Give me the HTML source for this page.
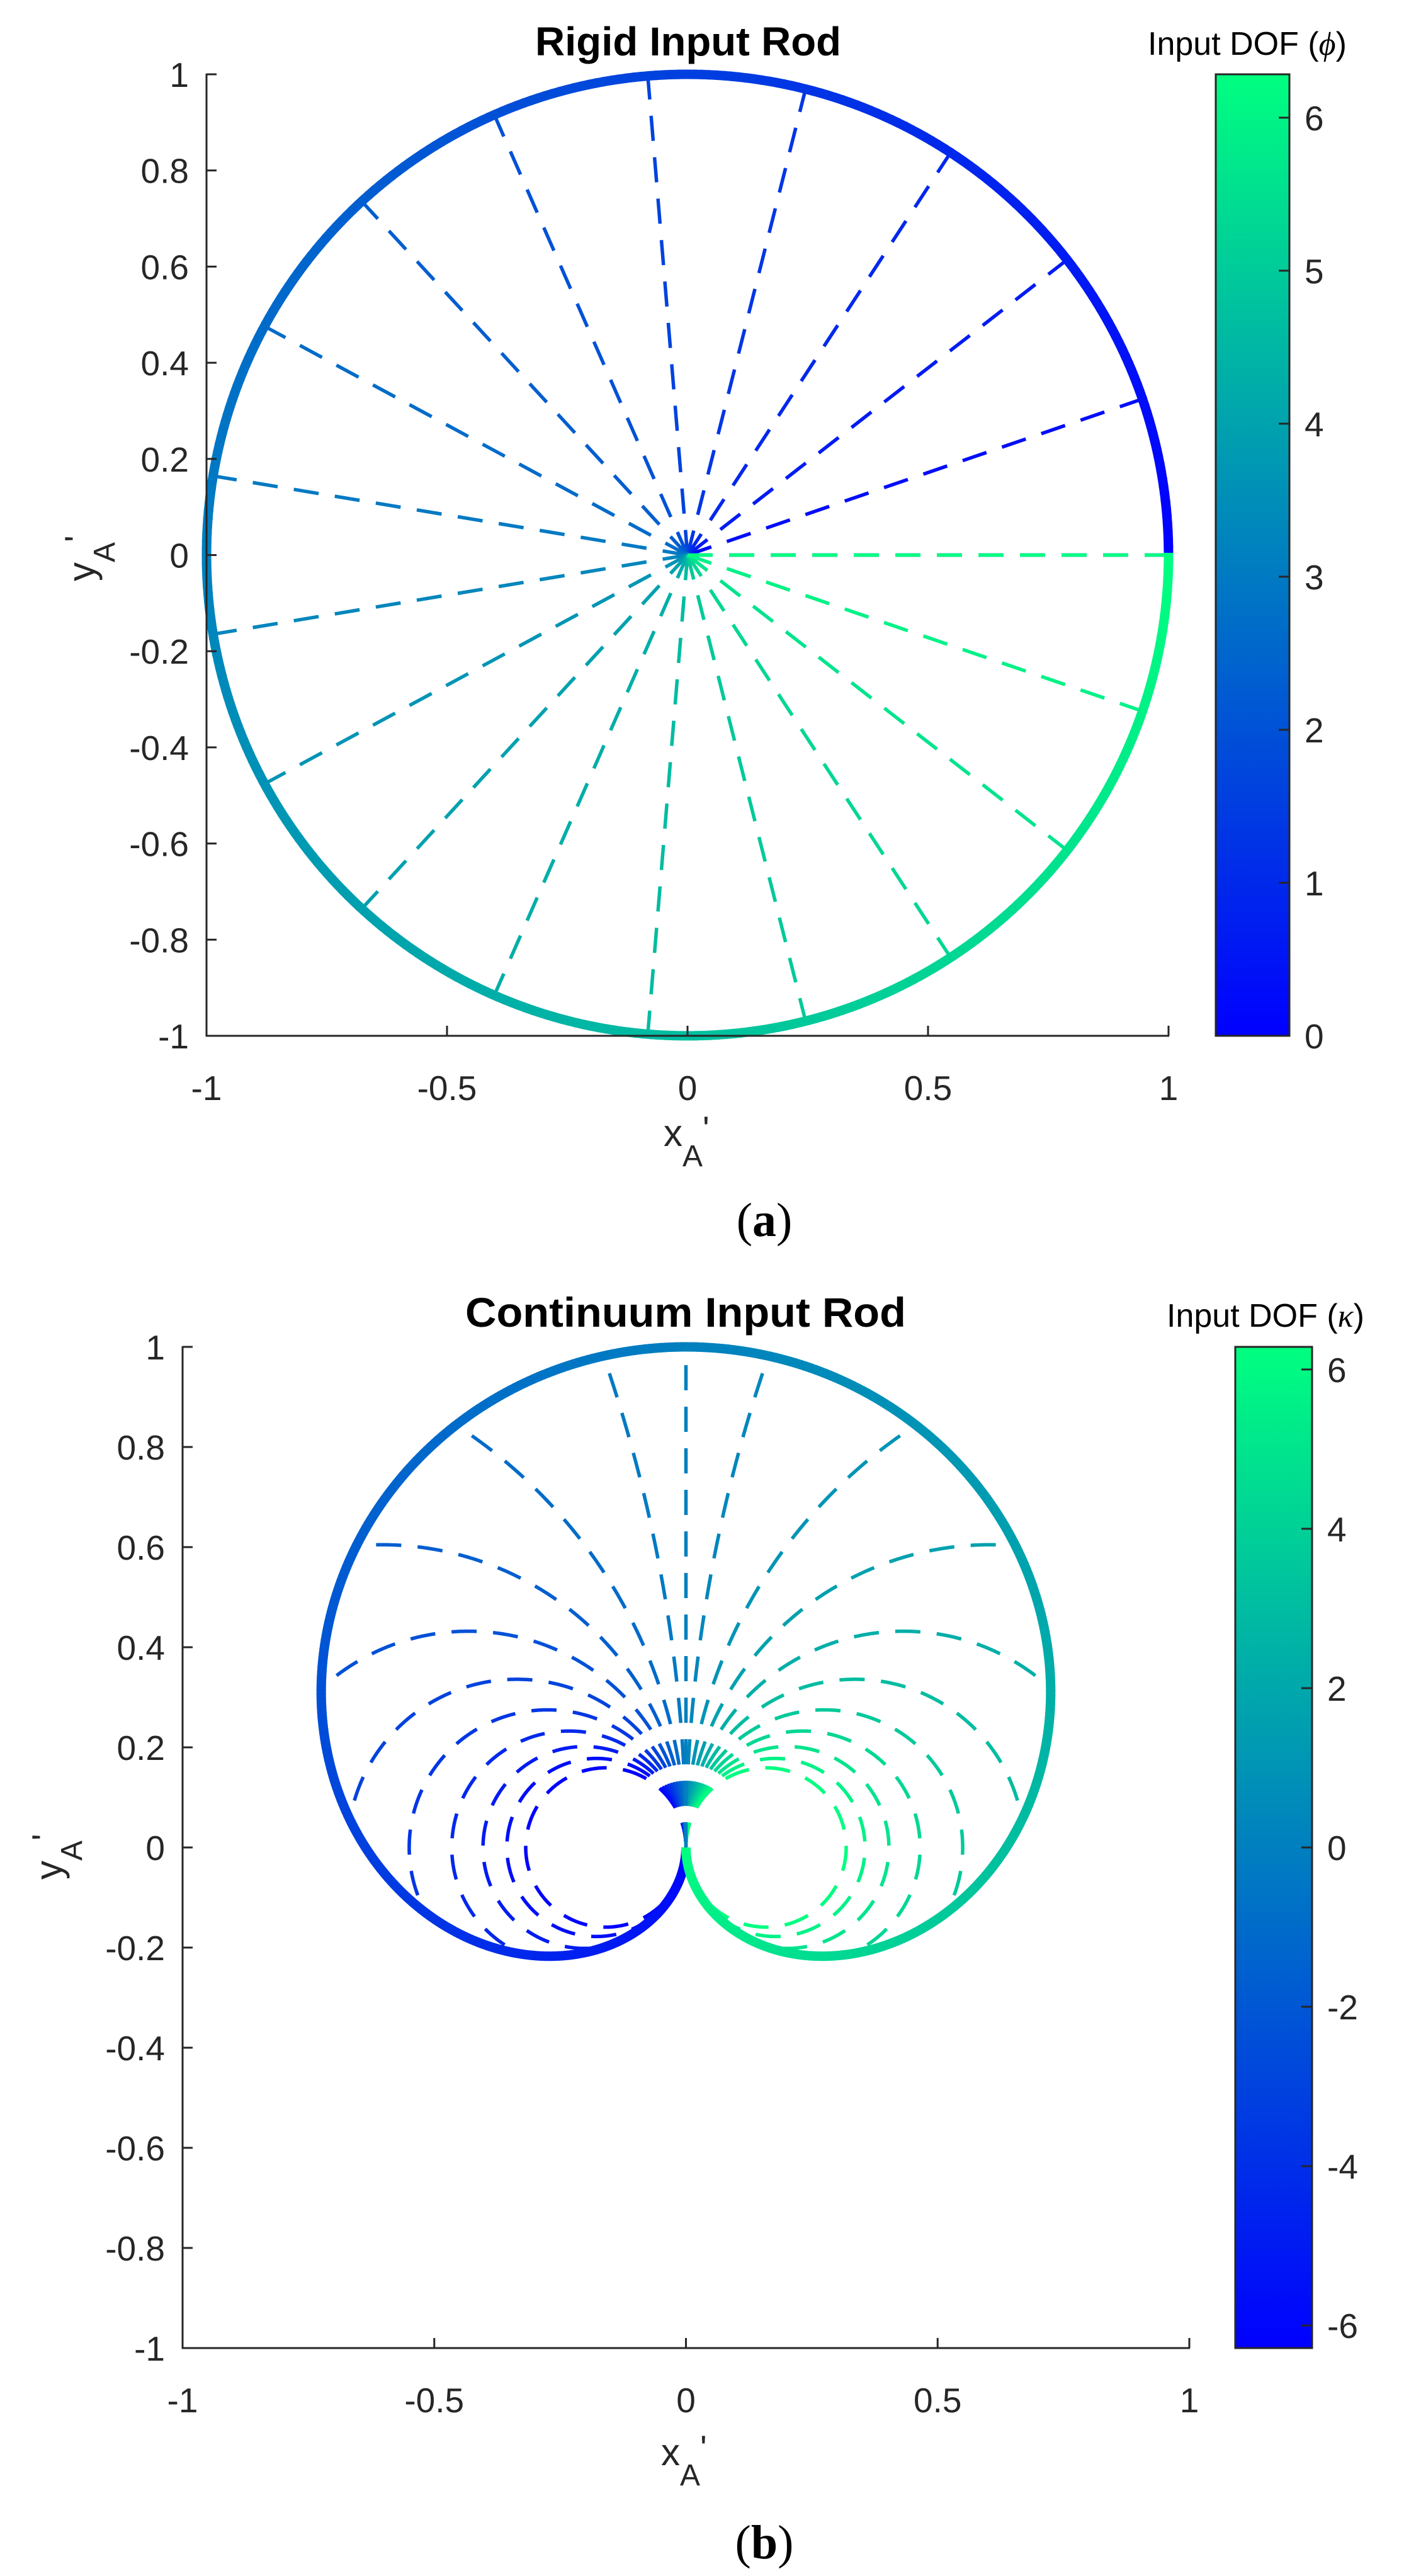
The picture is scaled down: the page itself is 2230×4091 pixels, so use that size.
<!DOCTYPE html>
<html><head><meta charset="utf-8">
<style>
html,body{margin:0;padding:0;background:#fff;}
svg{display:block;}
text{font-family:"Liberation Sans",Arial,sans-serif;fill:#262626;}
</style></head>
<body>
<svg id="s" width="2230" height="4091" viewBox="0 0 2230 4091" xmlns="http://www.w3.org/2000/svg">
<defs>
<linearGradient id="cb" x1="0" y1="1" x2="0" y2="0">
<stop offset="0" stop-color="#0000ff"/><stop offset="1" stop-color="#00ff80"/>
</linearGradient>
</defs>
<rect width="2230" height="4091" fill="#fff"/>
<g id="ga"></g>
<g id="gb"></g>
<text x="1093" y="88" font-size="64" font-weight="bold" text-anchor="middle" style="fill:#000" textLength="486" lengthAdjust="spacingAndGlyphs">Rigid Input Rod</text>
<text x="1089" y="2107" font-size="66" font-weight="bold" text-anchor="middle" style="fill:#000" textLength="700" lengthAdjust="spacingAndGlyphs">Continuum Input Rod</text>
<text x="1823" y="87" font-size="52" style="fill:#000">Input DOF (<tspan font-family="Liberation Serif,serif" font-style="italic">ϕ</tspan>)</text>
<text x="1853" y="2107" font-size="52" style="fill:#000">Input DOF (<tspan font-family="Liberation Serif,serif" font-style="italic">κ</tspan>)</text>
<text x="1054" y="1820" font-size="60">x<tspan font-size="48" dy="32">A</tspan><tspan dy="-40" font-size="56">'</tspan></text>
<text x="1050" y="3915" font-size="60">x<tspan font-size="48" dy="32">A</tspan><tspan dy="-40" font-size="56">'</tspan></text>
<text transform="translate(150,923) rotate(-90)" font-size="60">y<tspan font-size="48" dy="32">A</tspan><tspan dy="-40" font-size="56">'</tspan></text>
<text transform="translate(98,2985) rotate(-90)" font-size="60">y<tspan font-size="48" dy="32">A</tspan><tspan dy="-40" font-size="56">'</tspan></text>
<text x="1214" y="1963" font-size="76" text-anchor="middle" style="fill:#000;font-family:'Liberation Serif',serif">(<tspan font-weight="bold">a</tspan>)</text>
<text x="1214" y="4063" font-size="76" text-anchor="middle" style="fill:#000;font-family:'Liberation Serif',serif">(<tspan font-weight="bold">b</tspan>)</text>
</svg>
<script>
(function(){
var NS="http://www.w3.org/2000/svg";
function el(p,n,a){var e=document.createElementNS(NS,n);for(var k in a)e.setAttribute(k,a[k]);p.appendChild(e);return e;}
function col(t){t=Math.max(0,Math.min(1,t));return "rgb(0,"+Math.round(255*t)+","+Math.round(255*(1-0.5*t))+")";}
var AX="#262626";
var DW=5.5, DA="40 26", CW=15;
function axes(g,L,T,R,B,xs,ys,cbL,cbR,cbMin,cbMax,cbTicks,cbLabX){
  var xt=[-1,-0.5,0,0.5,1];
  xt.forEach(function(v){var x=xs(v);el(g,"line",{x1:x,y1:B,x2:x,y2:B-16,stroke:AX,"stroke-width":3});
    var t=el(g,"text",{x:x,y:B+102,"font-size":55,"text-anchor":"middle"});t.textContent=(v==0?"0":String(v));});
  for(var i=-5;i<=5;i++){var v=i/5;var y=ys(v);el(g,"line",{x1:L,y1:y,x2:L+16,y2:y,stroke:AX,"stroke-width":3});
    var s=(v==0?"0":(Math.abs(v)==1?String(v):v.toFixed(1)));
    var t=el(g,"text",{x:L-28,y:y+20,"font-size":55,"text-anchor":"end"});t.textContent=s;}
  el(g,"line",{x1:L,y1:T-1,x2:L,y2:B+1.5,stroke:AX,"stroke-width":3});
  el(g,"line",{x1:L-1.5,y1:B,x2:R+1,y2:B,stroke:AX,"stroke-width":3});
  el(g,"rect",{x:cbL,y:T,width:cbR-cbL,height:B-T,fill:"url(#cb)",stroke:AX,"stroke-width":3});
  cbTicks.forEach(function(v){var y=B-(v-cbMin)/(cbMax-cbMin)*(B-T);
    el(g,"line",{x1:cbR,y1:y,x2:cbR-17,y2:y,stroke:AX,"stroke-width":3});
    var t=el(g,"text",{x:cbLabX,y:y+20,"font-size":55});t.textContent=String(v);});
}
var ga=document.getElementById("ga");
var La=328,Ta=118,Ra=1856,Ba=1645;
function xa(v){return La+(v+1)*(Ra-La)/2;} function ya(v){return Ta+(1-v)*(Ba-Ta)/2;}
var P2=2*Math.PI;
for(var k=0;k<=19;k++){var th=k*P2/19;
  el(ga,"line",{x1:xa(0),y1:ya(0),x2:xa(Math.cos(th)),y2:ya(Math.sin(th)),stroke:col(k/19),"stroke-width":DW,"stroke-dasharray":DA});}
var N=400;
for(var i=0;i<N;i++){var a0=i*P2/N,a1=(i+1.3)*P2/N;
  el(ga,"line",{x1:xa(Math.cos(a0)),y1:ya(Math.sin(a0)),x2:xa(Math.cos(a1)),y2:ya(Math.sin(a1)),stroke:col(i/N),"stroke-width":CW});}
axes(ga,La,Ta,Ra,Ba,xa,ya,1931,2048,0,P2,[0,1,2,3,4,5,6],2072);

var gb=document.getElementById("gb");
var Lb=290,Tb=2139,Rb=1889,Bb=3729;
function xb(v){return Lb+(v+1)*(Rb-Lb)/2;} function yb(v){return Tb+(1-v)*(Bb-Tb)/2;}
function tip(kp,s){ if(Math.abs(kp)<1e-9) return [0,s]; return [(1-Math.cos(kp*s))/kp, Math.sin(kp*s)/kp]; }
var ks=[];for(var j=0;j<20;j++)ks.push(-P2+j*(2*P2)/19);ks.push(0);
ks.forEach(function(kp){var d="";for(var i=0;i<=200;i++){var s=i/200;var p=tip(kp,s);d+=(i?"L":"M")+xb(p[0]).toFixed(2)+" "+yb(p[1]).toFixed(2);}
  el(gb,"path",{d:d,fill:"none",stroke:col((kp+P2)/(2*P2)),"stroke-width":DW,"stroke-dasharray":DA});});
var M=600;
for(var i=0;i<M;i++){var k0=-P2+i*2*P2/M,k1=-P2+(i+1.3)*2*P2/M;if(k1>P2)k1=P2;
  var p0=tip(k0,1),p1=tip(k1,1);
  el(gb,"line",{x1:xb(p0[0]),y1:yb(p0[1]),x2:xb(p1[0]),y2:yb(p1[1]),stroke:col(i/M),"stroke-width":CW});}
axes(gb,Lb,Tb,Rb,Bb,xb,yb,1962,2084,-P2,P2,[-6,-4,-2,0,2,4,6],2108);
})();
</script>
</body></html>
